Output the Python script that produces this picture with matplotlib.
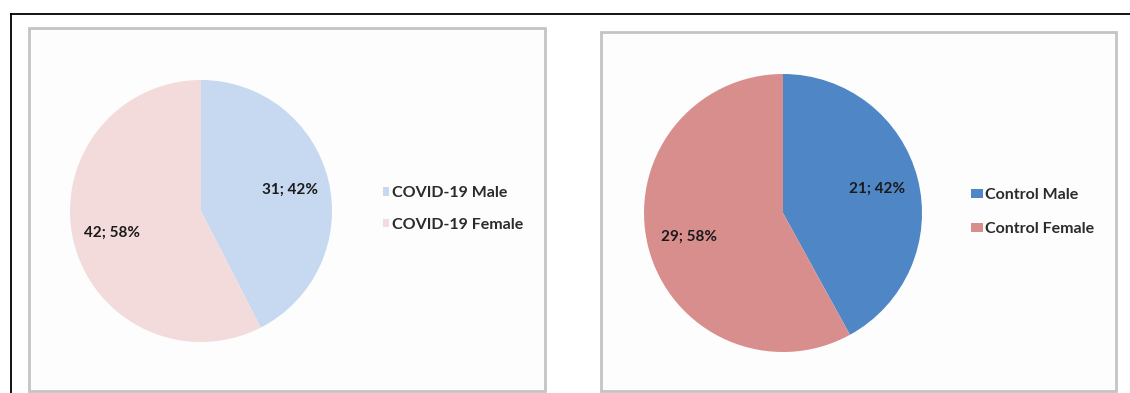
import matplotlib
matplotlib.use("Agg")
import matplotlib.pyplot as plt
from matplotlib.patches import Rectangle, Patch
from matplotlib.lines import Line2D

# data
covid_labels = ["COVID-19 Male", "COVID-19 Female"]
covid_counts = [31, 42]
control_labels = ["Control Male", "Control Female"]
control_counts = [21, 29]

covid_colors = ["#c6d9f1", "#f4dbdb"]
control_colors = ["#4f86c6", "#d98e8e"]

W, H = 1130, 393
plt.rcParams["font.family"] = ["Lato", "DejaVu Sans"]


def px_box(left, top, right, bottom):
    """Pixel box (y down) -> figure fraction [x, y, w, h]."""
    return [left / W, 1 - bottom / H, (right - left) / W, (bottom - top) / H]


def draw_pie(fig, box, counts, labels, colors, legend_anchor, handle_size, spacing):
    ax = fig.add_axes(px_box(*box))
    total = sum(counts)
    ax.pie(
        counts,
        colors=colors,
        startangle=90,
        counterclock=False,
        autopct=lambda p: f"{round(p * total / 100):d}; {p:.0f}%",
        pctdistance=0.7,
        wedgeprops={"linewidth": 0},
        textprops={"fontsize": 11, "fontweight": "bold", "color": "#1a1a1a"},
    )
    ax.set_xlim(-1, 1)
    ax.set_ylim(-1, 1)
    ax.set_aspect("equal")
    ax.axis("off")

    handles = [Patch(facecolor=c, edgecolor="none") for c in colors]
    fig.legend(
        handles,
        labels,
        loc="center left",
        bbox_to_anchor=legend_anchor,
        bbox_transform=fig.transFigure,
        frameon=False,
        prop={"size": 11.5, "weight": "bold"},
        labelcolor="#2b2b2b",
        handlelength=handle_size[0],
        handleheight=handle_size[1],
        handletextpad=0.15,
        labelspacing=spacing,
        borderpad=0,
        borderaxespad=0,
    )


fig = plt.figure(figsize=(W / 100, H / 100), dpi=100)
fig.patch.set_facecolor("white")

# outer frame lines (top and left only)
fig.add_artist(Line2D([11 / W, 1], [1 - 14 / H, 1 - 14 / H], transform=fig.transFigure,
                      color="black", lw=1.3, zorder=-2))
fig.add_artist(Line2D([11 / W, 11 / W], [0, 1 - 14 / H], transform=fig.transFigure,
                      color="black", lw=1.3, zorder=-2))

# grey chart panels
for left, top, right, bottom in [(29, 28, 545, 391), (601, 32, 1116, 391)]:
    fig.add_artist(Rectangle((left / W, 1 - bottom / H), (right - left) / W, (bottom - top) / H,
                             transform=fig.transFigure, facecolor="#fdfdfd",
                             edgecolor="#c4c4c4", lw=2, zorder=-1))

draw_pie(fig, (70, 80, 332, 342), covid_counts, covid_labels, covid_colors,
         (383 / W, 1 - 209 / H), (0.4, 0.4), 1.1)
draw_pie(fig, (644, 74, 922, 352), control_counts, control_labels, control_colors,
         (971 / W, 1 - 212 / H), (0.75, 0.5), 1.25)

fig.savefig("out.png", dpi=100)
